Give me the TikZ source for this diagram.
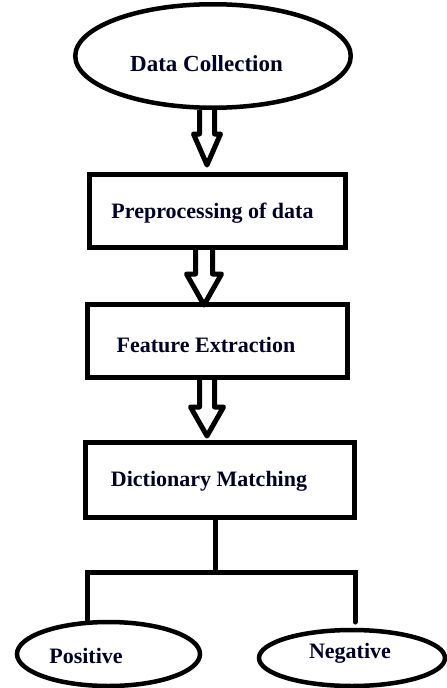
\documentclass[tikz,border=0pt]{standalone}
\usepackage{fontspec}
\setmainfont{Liberation Serif}
\usetikzlibrary{shapes.geometric}
\newcommand\hollowdown[6]{% #1 anchor, #2 x offset, #3 shaft length, #4 head length, #5 shaft half width, #6 head half width
  \draw[harrow] ([xshift={#2pt-#5pt}]#1) -- ++(0,#3) -- ++(-#6+#5,0) -- ++(#6,#4) -- ++(#6,-#4) -- ++(-#6+#5,0) -- ++(0,-#3);}
\begin{document}
\begin{tikzpicture}[x=1pt,y=-1pt,
  oval/.style={ellipse, draw, line width=4.5pt, inner sep=0pt},
  box/.style={rectangle, draw, line width=5pt, inner sep=0pt},
  lbl/.style={font=\fontsize{22}{26}\selectfont\bfseries, inner sep=0pt, anchor=base, text=black!85!blue},
  harrow/.style={draw, line width=5pt, fill=white, line join=round},
  tree/.style={line width=5pt, line cap=round}
]
\useasboundingbox (0,0) rectangle (447,688);
% shapes
\node[oval, minimum width=275.5pt, minimum height=103.5pt] (dc) at (213,56) {};
\node[box, minimum width=256pt, minimum height=73pt] (pre) at (217.5,211) {};
\node[box, minimum width=260pt, minimum height=73pt] (fe) at (217.5,341) {};
\node[box, minimum width=269pt, minimum height=75pt] (dm) at (220,480) {};
\node[oval, minimum width=183pt, minimum height=64pt] (pos) at (108.5,654) {};
\node[oval, minimum width=186pt, minimum height=56pt] (neg) at (352,658) {};
% texts
\node[lbl, font=\fontsize{23}{27}\selectfont\bfseries] (tdc) at (206.5,71.5) {Data Collection};
\node[lbl] (tpre) at (212.5,218) {Preprocessing of data};
\node[lbl] (tfe) at (206,352) {Feature Extraction};
\node[lbl] (tdm) at (209,486) {Dictionary Matching};
\node[lbl] (tpos) at (86,663) {Positive};
\node[lbl] (tneg) at (350,658) {Negative};
% hollow arrows
\hollowdown{dc.south}{-6}{24}{31}{7.5}{13.5}
\hollowdown{pre.south}{-13.5}{24}{31}{8.5}{17.5}
\hollowdown{fe.south}{-10.5}{27}{29}{7.5}{16.5}
% tree
\coordinate (j) at (215,572);
\draw[tree] ([xshift=-5pt]dm.south) -- (j);
\draw[tree] (pos.north -| 87,0) |- (j) -| (355,622);
\end{tikzpicture}
\end{document}
